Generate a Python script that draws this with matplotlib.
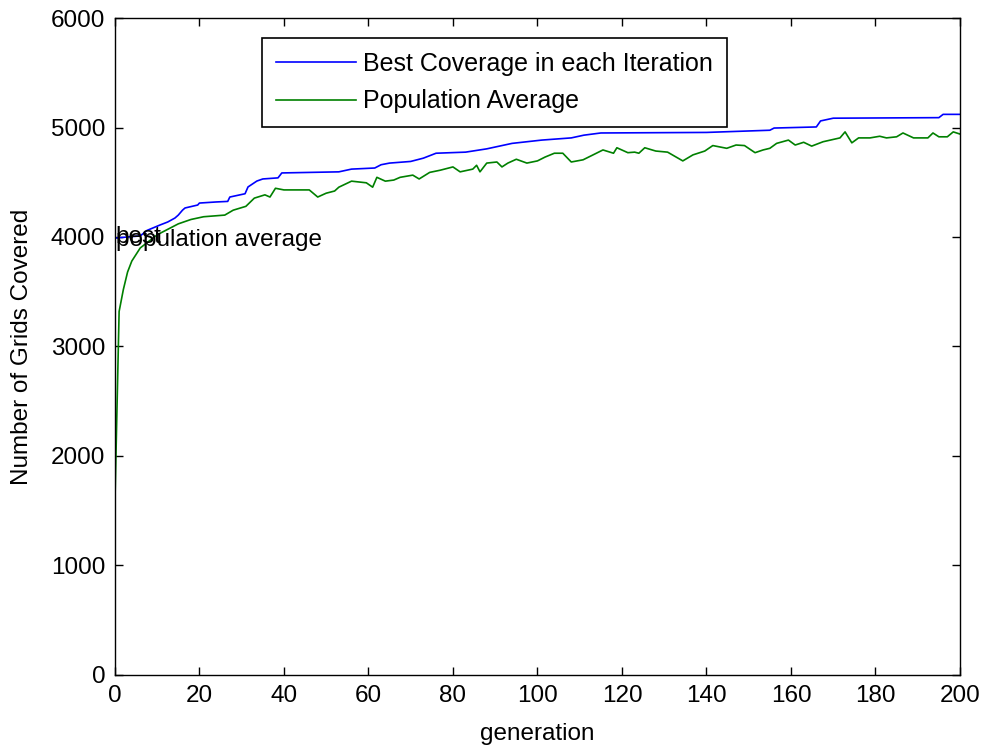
import matplotlib
matplotlib.use('Agg')
import matplotlib.pyplot as plt

plt.rcParams['font.family'] = ['Liberation Sans', 'DejaVu Sans']

# best coverage per generation (read at the step changes)
best_gen = [0, 6, 7.6, 10.7, 12.5, 14.2, 15, 16, 16.6, 19.6, 20, 24, 26.7,
            27.2, 30.8, 31.5, 33.6, 35, 38.6, 39.5, 53, 56, 61.5, 63, 65, 70,
            73, 76, 83, 88, 94, 101, 108, 111, 115, 140, 155, 156, 166, 167,
            170, 195, 196, 200]
best_cov = [3990, 4010, 4060, 4110, 4137, 4173, 4200, 4245, 4265, 4292, 4310,
            4320, 4325, 4365, 4395, 4457, 4511, 4530, 4540, 4585, 4595, 4620,
            4630, 4660, 4675, 4690, 4720, 4765, 4775, 4805, 4855, 4885, 4905,
            4930, 4950, 4955, 4975, 4995, 5005, 5060, 5085, 5090, 5120, 5120]

# population average per generation
avg_gen = [0, 1, 2, 3, 4, 5, 6, 8, 10, 12, 15, 18, 21, 26, 28, 31, 33, 35.5,
           36.7, 38, 40, 46, 48, 50, 52, 53, 56, 59.5, 61, 62, 64, 66, 67.5,
           70.5, 72, 74.5, 77, 80, 81.7, 84.7, 85.6, 86.4, 88, 90.4, 91.6, 93,
           95, 97.5, 100, 101.8, 104, 106, 108, 110.8, 112.9, 115.5, 118,
           118.8, 121.4, 123, 124, 125.4, 128, 130.8, 134.4, 136.8, 139.6,
           141.5, 144.8, 147, 149, 151.5, 153.4, 155, 156.6, 159.4, 161, 163,
           164.9, 167.6, 171.6, 172.8, 174.4, 176, 178.7, 181, 182.6, 185,
           186.5, 189, 192.4, 193.6, 195, 197, 198.4, 200]
avg_cov = [1560, 3320, 3520, 3680, 3780, 3840, 3900, 3960, 4020, 4060, 4120,
           4160, 4185, 4200, 4245, 4280, 4355, 4385, 4365, 4445, 4430, 4430,
           4365, 4400, 4420, 4455, 4510, 4495, 4455, 4545, 4510, 4520, 4545,
           4565, 4530, 4590, 4610, 4640, 4595, 4620, 4655, 4595, 4675, 4685,
           4640, 4675, 4710, 4675, 4695, 4730, 4765, 4765, 4685, 4705, 4745,
           4795, 4765, 4815, 4770, 4775, 4765, 4815, 4785, 4775, 4695, 4750,
           4785, 4835, 4810, 4840, 4835, 4770, 4795, 4810, 4855, 4885, 4840,
           4865, 4830, 4870, 4905, 4960, 4860, 4905, 4905, 4920, 4905, 4915,
           4950, 4905, 4905, 4950, 4915, 4915, 4960, 4940]

x_ticks = list(range(0, 201, 20))
y_ticks = list(range(0, 6001, 1000))

fig = plt.figure(figsize=(9.82, 7.47), dpi=100)
ax = fig.add_axes([0.117, 0.0964, 0.8606, 0.8795])

ax.plot(best_gen, best_cov, color='#0000ff', lw=1.2,
        label='Best Coverage in each Iteration')
ax.plot(avg_gen, avg_cov, color='#008000', lw=1.2, label='Population Average')

# the two annotations are placed at the same spot and overlap
ax.text(0.2, 4000, 'best', fontsize=17.5, va='center', ha='left')
ax.text(0.2, 3975, 'population average', fontsize=17.5, va='center', ha='left')

ax.set_xlim(0, 200)
ax.set_ylim(0, 6000)
ax.set_xticks(x_ticks)
ax.set_yticks(y_ticks)
ax.tick_params(direction='in', length=6, width=1, top=True, right=True,
               labelsize=17.5, pad=7)
for s in ax.spines.values():
    s.set_linewidth(1.0)

ax.set_xlabel('generation', fontsize=17.5, labelpad=12)
ax.set_ylabel('Number of Grids Covered', fontsize=17.5, labelpad=13)

leg = ax.legend(loc='upper left', bbox_to_anchor=(0.174, 0.9696),
                borderaxespad=0, fontsize=18, handlelength=3.2,
                handletextpad=0.3, labelspacing=0.55, borderpad=0.55,
                fancybox=False, framealpha=1, edgecolor='black')
leg.get_frame().set_linewidth(1.2)

fig.savefig('out.png', dpi=100, facecolor='white')
